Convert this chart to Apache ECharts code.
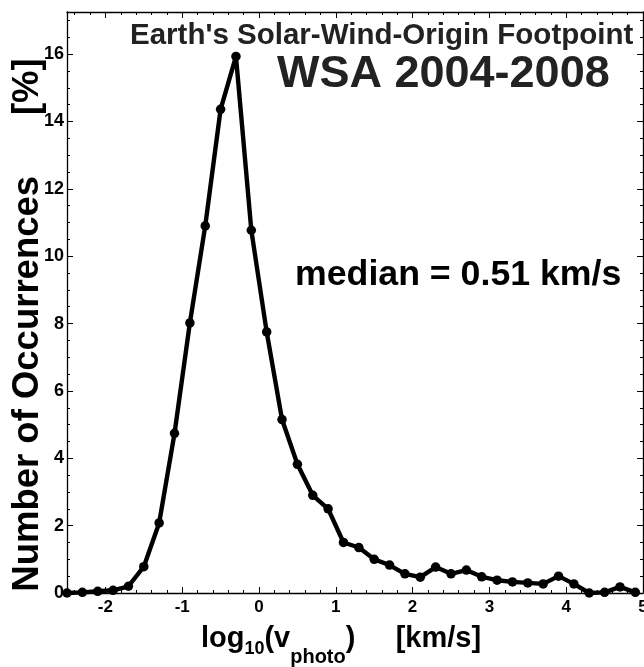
<!DOCTYPE html>
<html>
<head>
<meta charset="utf-8">
<script src="https://cdn.jsdelivr.net/npm/echarts@6/dist/echarts.min.js"></script>
<style>
html,body{margin:0;padding:0;background:#fff;}
#chart{width:644px;height:667px;}
</style>
</head>
<body>
<div id="chart"></div>
<script>
// log10(v_photo) bin centres [km/s]
var binCenters = [-2.5,-2.3,-2.1,-1.9,-1.7,-1.5,-1.3,-1.1,-0.9,-0.7,-0.5,-0.3,-0.1,0.1,0.3,0.5,0.7,0.9,1.1,1.3,1.5,1.7,1.9,2.1,2.3,2.5,2.7,2.9,3.1,3.3,3.5,3.7,3.9,4.1,4.3,4.5,4.7,4.9];
// Number of occurrences [%]
var occurrences = [0.0,0.02,0.05,0.08,0.2,0.78,2.08,4.74,8.02,10.9,14.36,15.93,10.77,7.75,5.15,3.82,2.9,2.5,1.5,1.35,1.0,0.83,0.57,0.47,0.77,0.57,0.68,0.48,0.38,0.33,0.3,0.27,0.5,0.27,0.0,0.02,0.18,0.02];

var titleLine1 = "Earth's Solar-Wind-Origin Footpoint";
var titleLine2 = "WSA 2004-2008";
var medianText = "median = 0.51 km/s";
var yTitle = "Number of Occurrences      [%]";

var xMin = -2.5, xMax = 5, yMin = 0, yMax = 17.25;

var points = binCenters.map(function (x, i) { return [x, occurrences[i]]; });

var FONT = "'Liberation Sans', Arial, Helvetica, sans-serif";
function axisBase() {
  return {
    axisLine: { show: true, onZero: false, lineStyle: { color: '#000', width: 1.3 } },
    axisTick: { show: true, inside: true, length: 6, lineStyle: { color: '#000', width: 1 } },
    splitLine: { show: false }
  };
}
function minor(n) { return { show: true, splitNumber: n, length: 3, lineStyle: { color: '#000', width: 1 } }; }

var chart = echarts.init(document.getElementById('chart'), null, { renderer: 'canvas' });
chart.setOption({
  backgroundColor: '#fff',
  animation: false,
  grid: { left: 67, right: 1, top: 12, bottom: 74, containLabel: false, outerBoundsMode: 'none' },
  xAxis: [
    Object.assign(axisBase(), {
      type: 'value', position: 'bottom', min: xMin, max: xMax, splitNumber: 8,
      minorTick: minor(5),
      axisLabel: { show: true, showMinLabel: false, color: '#000', fontFamily: FONT, fontWeight: 'bold', fontSize: 17, margin: 6 },
      name: '{b|log}{s1|10}{b|(v}{s2|photo}{b|)     [km/s]}',
      nameLocation: 'middle', nameGap: 31, nameMoveOverlap: false,
      nameTextStyle: {
        color: '#000', fontFamily: FONT, padding: [0, 28, 0, 0],
        rich: {
          b: { fontSize: 29, fontWeight: 'bold', fontFamily: FONT, color: '#000', lineHeight: 44, verticalAlign: 'top' },
          s1: { fontSize: 18, fontWeight: 'bold', fontFamily: FONT, color: '#000', lineHeight: 44, verticalAlign: 'top', padding: [16, 0, 0, 0] },
          s2: { fontSize: 20, fontWeight: 'bold', fontFamily: FONT, color: '#000', lineHeight: 44, verticalAlign: 'top', padding: [23, 0, 0, 0] }
        }
      }
    }),
    Object.assign(axisBase(), {
      type: 'value', position: 'top', min: xMin, max: xMax, splitNumber: 8,
      minorTick: minor(5),
      axisLabel: { show: false }
    })
  ],
  yAxis: [
    Object.assign(axisBase(), {
      type: 'value', position: 'left', min: yMin, max: yMax, interval: 2,
      minorTick: minor(4),
      axisLabel: { show: true, showMaxLabel: false, color: '#000', fontFamily: FONT, fontWeight: 'bold', fontSize: 18, margin: 3 },
      name: yTitle, nameLocation: 'middle', nameGap: 21, nameRotate: 90, nameMoveOverlap: false,
      nameTextStyle: { color: '#000', fontFamily: FONT, fontWeight: 'bold', fontSize: 36.5, padding: [0, 45, 0, 0] }
    }),
    Object.assign(axisBase(), {
      type: 'value', position: 'right', min: yMin, max: yMax, interval: 2,
      minorTick: minor(4),
      axisLabel: { show: false }
    })
  ],
  graphic: [
    { type: 'text', left: 130, top: 21, style: { text: titleLine1, fill: '#222', font: 'bold 29.5px ' + FONT } },
    { type: 'text', left: 277, top: 52, style: { text: titleLine2, fill: '#222', font: 'bold 45px ' + FONT } },
    { type: 'text', left: 295, top: 257, style: { text: medianText, fill: '#000', font: 'bold 35.7px ' + FONT } }
  ],
  series: [{
    type: 'line',
    xAxisIndex: 0, yAxisIndex: 0,
    data: points,
    clip: false,
    symbol: 'circle', symbolSize: 9.5,
    lineStyle: { color: '#000', width: 4.4 },
    itemStyle: { color: '#000' }
  }]
});
</script>
</body>
</html>
